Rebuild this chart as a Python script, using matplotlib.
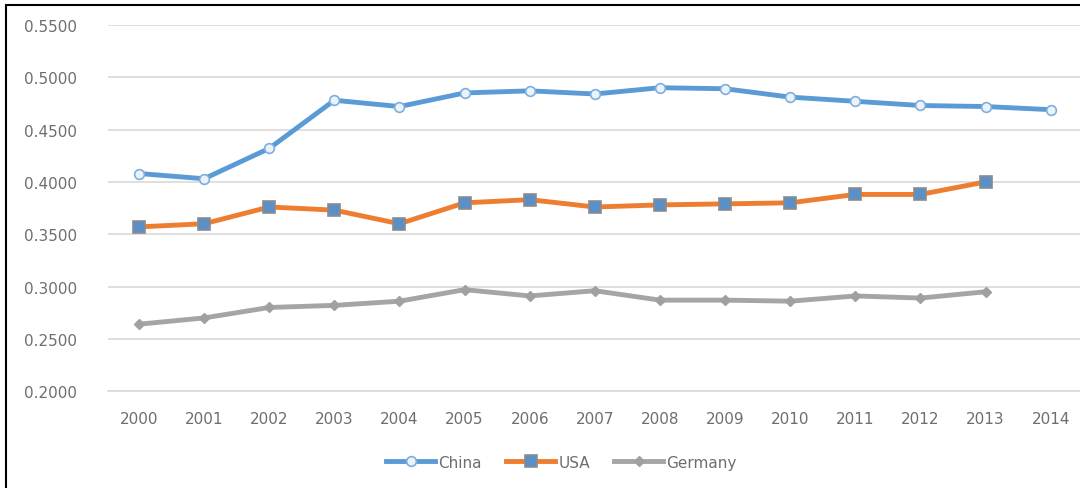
import matplotlib.pyplot as plt
from matplotlib.patches import Rectangle

years = ['2000', '2001', '2002', '2003', '2004', '2005', '2006', '2007',
         '2008', '2009', '2010', '2011', '2012', '2013', '2014']
china = [0.408, 0.403, 0.432, 0.478, 0.472, 0.485, 0.487, 0.484,
         0.490, 0.489, 0.481, 0.477, 0.473, 0.472, 0.469]
usa = [0.357, 0.360, 0.376, 0.373, 0.360, 0.380, 0.383, 0.376,
       0.378, 0.379, 0.380, 0.388, 0.388, 0.400]
germany = [0.264, 0.270, 0.280, 0.282, 0.286, 0.297, 0.291, 0.296,
           0.287, 0.287, 0.286, 0.291, 0.289, 0.295]
yticks = [0.20, 0.25, 0.30, 0.35, 0.40, 0.45, 0.50, 0.55]

fig = plt.figure(figsize=(10.8, 4.89), dpi=100)
ax = fig.add_axes([0.1, 0.198, 0.9, 0.749])

x = list(range(len(years)))
ax.plot(x, china, color='#5B9BD5', lw=3.5, marker='o', ms=7,
        mfc='#EAF2FB', mec='#7EAEDD', mew=1.2, label='China', zorder=3)
ax.plot(x[:len(usa)], usa, color='#ED7D31', lw=3.5, marker='s', ms=8,
        mfc='#5B8FC7', mec='#8C8C8C', mew=1.2, label='USA', zorder=3)
ax.plot(x[:len(germany)], germany, color='#A5A5A5', lw=3.5, marker='D', ms=5,
        mfc='#A0A0A0', mec='#A0A0A0', label='Germany', zorder=3)

ax.set_xlim(-0.476, 14.45)
ax.set_ylim(0.2, 0.55)
ax.set_xticks(x)
ax.set_xticklabels(years)
ax.set_yticks(yticks)
ax.set_yticklabels(['%.4f' % v for v in yticks])
ax.tick_params(colors='#6E6E6E', labelsize=11, length=0, pad=14)
ax.tick_params(axis='y', pad=22)
ax.grid(axis='y', color='#D9D9D9', lw=1.2)
ax.set_axisbelow(True)
for s in ['top', 'right', 'left']:
    ax.spines[s].set_visible(False)
ax.spines['bottom'].set_color('#D9D9D9')
ax.spines['bottom'].set_linewidth(1.2)

fig.legend(loc='center', bbox_to_anchor=(0.52, 0.053), ncol=3, frameon=False,
           fontsize=11, labelcolor='#6E6E6E', handlelength=3.2,
           handletextpad=0.2, columnspacing=1.6)

fig.patches.append(Rectangle((0.006, -0.1), 1.1, 1.088, transform=fig.transFigure,
                             fill=False, ec='black', lw=1.5))

fig.savefig('out.png', dpi=100)
